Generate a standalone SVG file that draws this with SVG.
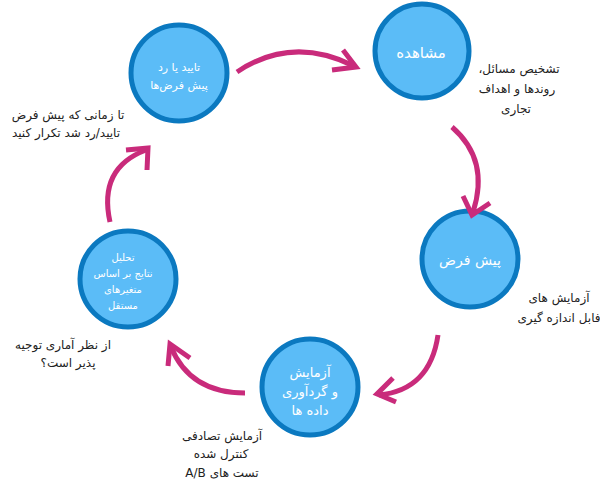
<svg xmlns="http://www.w3.org/2000/svg" width="600" height="485" viewBox="0 0 600 485">
<style>
.node circle{fill:#5bbcf7;stroke:#0b79c0;stroke-width:5}
.nt{fill:#fff;font-family:"DejaVu Sans",sans-serif;text-anchor:middle;direction:rtl}
.lb{fill:#222;font-family:"DejaVu Sans",sans-serif;font-size:12px;text-anchor:middle;direction:rtl}
.arr path{fill:none;stroke:#c92b7b;stroke-width:5;stroke-linejoin:miter}
</style>
<rect width="600" height="485" fill="#fff"/>
<g id="node-confirm" class="node">
<circle cx="179" cy="73" r="48"/>
<text class="nt" font-size="11" x="179" y="71">تایید یا رد</text>
<text class="nt" font-size="11" x="179" y="89">پیش فرض‌ها</text>
</g>
<g id="node-observe" class="node">
<circle cx="422" cy="51" r="47"/>
<text class="nt" font-size="15" x="421" y="58">مشاهده</text>
</g>
<g id="node-hypothesis" class="node">
<circle cx="470" cy="259" r="48"/>
<text class="nt" font-size="14" x="470" y="265">پیش فرض</text>
</g>
<g id="node-experiment" class="node">
<circle cx="310" cy="387" r="48"/>
<text class="nt" font-size="13" x="310" y="377">آزمایش</text>
<text class="nt" font-size="13" x="310" y="396">و گردآوری</text>
<text class="nt" font-size="13" x="310" y="415">داده ها</text>
</g>
<g id="node-analyze" class="node">
<circle cx="128" cy="279" r="48"/>
<text class="nt" font-size="10" x="123" y="261">تحلیل</text>
<text class="nt" font-size="10" x="123" y="277">نتایج بر اساس</text>
<text class="nt" font-size="10" x="123" y="293">متغیرهای</text>
<text class="nt" font-size="10" x="123" y="309">مستقل</text>
</g>
<g id="labels">
<text class="lb" x="519" y="73">تشخیص مسائل،</text>
<text class="lb" x="517" y="93">روندها و اهداف</text>
<text class="lb" x="516" y="113">تجاری</text>
<text class="lb" x="559" y="302">آزمایش های</text>
<text class="lb" x="559" y="322">فابل اندازه گیری</text>
<text class="lb" x="222" y="440">آزمایش تصادفی</text>
<text class="lb" x="221" y="458">کنترل شده</text>
<text class="lb" x="222" y="477">تست های A/B</text>
<text class="lb" x="63" y="349">از نظر آماری توجیه</text>
<text class="lb" x="68" y="367">پذیر است؟</text>
<text class="lb" x="68" y="119">تا زمانی که پیش فرض</text>
<text class="lb" x="66" y="137">تایید/رد شد تکرار کنید</text>
</g>
<g id="connectors" class="arr">
<path d="M237,72 Q292,35 354,66"/>
<path d="M343,50 L356,67 L332,70"/>
<path d="M452,127 Q490,160 473,212"/>
<path d="M463,196 L472,215 L490,203"/>
<path d="M438,335 Q430,390 379,395"/>
<path d="M393,378 L377,394 L396,402"/>
<path d="M245,393 Q190,393 171,347"/>
<path d="M168,366 L170,344 L190,358"/>
<path d="M110,222 Q98,168 146,150"/>
<path d="M126,150 L148,148 L147,170"/>
</g>
</svg>
